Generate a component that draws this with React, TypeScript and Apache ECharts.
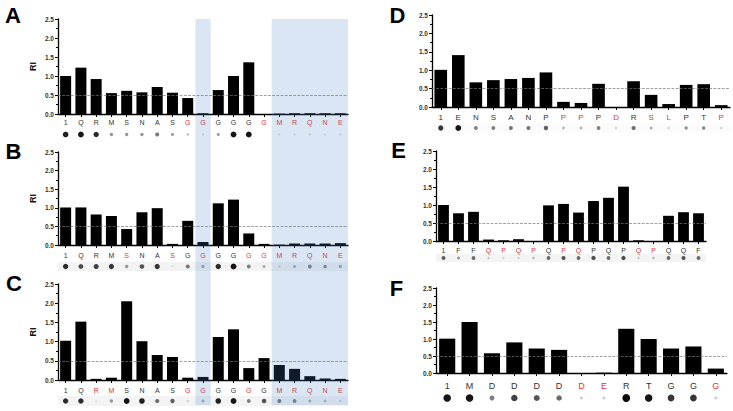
import React, { useEffect, useRef } from "react";
import * as echarts from "echarts";

// ---------- data ----------
const catsA = ["1","Q","R","M","S","N","A","S","G","G","G","G","G","G","M","R","Q","N","E"];
const valsA = [1.0,1.22,0.92,0.55,0.61,0.57,0.71,0.56,0.42,0.02,0.63,1.0,1.36,0.0,0.01,0.02,0.02,0.02,0.02];
const redA = [0,0,0,0,0,0,0,0,1,1,0,0,0,1,1,1,1,1,1];
const dotsA = [0.9,0.95,0.85,0.35,0.35,0.35,0.5,0.3,0.15,0.04,0.3,0.95,0.95,0,0.03,0.03,0.05,0.03,0.03];

const catsB = ["1","Q","R","M","S","N","A","S","G","G","G","G","G","G","M","R","Q","N","E"];
const valsB = [1.01,1.01,0.82,0.78,0.43,0.88,0.99,0.03,0.65,0.08,1.12,1.22,0.31,0.03,0.01,0.04,0.04,0.04,0.05];
const redB = [0,0,0,0,1,0,0,1,0,1,0,0,1,1,1,1,1,1,1];
const dotsB = [0.85,0.7,0.75,0.8,0.35,0.65,0.8,0.05,0.5,0.3,0.85,0.95,0.45,0.25,0.1,0.25,0.45,0.4,0.3];

const catsC = ["1","Q","R","M","S","N","A","S","G","G","G","G","G","G","M","R","Q","N","E"];
const valsC = [1.02,1.52,0.03,0.06,2.05,1.01,0.65,0.6,0.06,0.08,1.12,1.32,0.31,0.57,0.39,0.29,0.1,0.04,0.03];
const redC = [0,0,1,1,0,0,0,0,1,1,0,0,1,0,1,1,1,1,1];
const dotsC = [0.85,0.85,0.02,0.35,0.95,0.9,0.55,0.6,0.1,0.25,0.9,0.95,0.45,0.65,0.5,0.45,0.25,0.2,0.1];

const catsD = ["1","E","N","S","A","N","P","P","P","P","D","R","S","L","P","T","P"];
const valsD = [1.01,1.41,0.67,0.73,0.76,0.79,0.94,0.14,0.11,0.63,0.0,0.7,0.33,0.08,0.6,0.62,0.05];
const redD = [0,0,0,0,0,0,0,1,1,0,1,0,1,1,0,0,1];
const dotsD = [0.8,0.95,0.45,0.45,0.5,0.5,0.6,0.2,0.2,0.45,0.1,0.55,0.25,0.1,0.35,0.4,0.1];

const catsE = ["1","F","F","Q","P","Q","P","Q","P","Q","P","Q","P","Q","P","Q","Q","F"];
const valsE = [1.0,0.77,0.81,0.04,0.02,0.05,0.0,0.99,1.03,0.79,1.11,1.2,1.51,0.02,0.0,0.7,0.8,0.77];
const redE = [0,0,0,1,1,1,1,0,1,1,0,0,0,1,1,0,0,0];
const dotsE = [0.6,0.35,0.55,0.15,0.1,0.1,0.2,0.55,0.65,0.55,0.7,0.55,0.7,0.15,0.2,0.55,0.65,0.55];

const catsF = ["1","M","D","D","D","D","D","E","R","T","G","G","G"];
const valsF = [1.01,1.5,0.58,0.9,0.72,0.68,0.0,0.01,1.3,1.0,0.72,0.78,0.13];
const redF = [0,0,0,0,0,0,1,1,0,0,0,0,1];
const dotsF = [0.95,0.95,0.45,0.75,0.65,0.55,0.1,0.1,1,0.95,0.8,0.8,0.1];

const yMin = 0;
const yMax = 2.5;
const yStep = 0.5;
const threshold = 0.5;
const panelLetters = ["A", "B", "C", "D", "E", "F"];

// ---------- layout ----------
type Panel = {
  cats: string[]; vals: number[]; red: number[]; dots: number[];
  left: number; top: number; width: number; height: number;
  dotTop: number; dotH: number; dotBg: string; dotScale: number;
  labelSize: number; labelMargin: number; showName: boolean;
  letterX: number; letterY: number;
};

const panels: Panel[] = [
  { cats: catsA, vals: valsA, red: redA, dots: dotsA, left: 58, top: 19, width: 290, height: 95,
    dotTop: 130, dotH: 9, dotBg: "#ffffff", dotScale: 1, labelSize: 7, labelMargin: 5, showName: true, letterX: 13, letterY: 15 },
  { cats: catsB, vals: valsB, red: redB, dots: dotsB, left: 58, top: 152, width: 290, height: 93,
    dotTop: 262, dotH: 9, dotBg: "#f3f3f3", dotScale: 1, labelSize: 7, labelMargin: 7, showName: true, letterX: 13.5, letterY: 151 },
  { cats: catsC, vals: valsC, red: redC, dots: dotsC, left: 58, top: 284, width: 290, height: 96,
    dotTop: 396, dotH: 10, dotBg: "#f4f4f4", dotScale: 1, labelSize: 7, labelMargin: 7, showName: true, letterX: 14, letterY: 283.5 },
  { cats: catsD, vals: valsD, red: redD, dots: dotsD, left: 432, top: 15, width: 298, height: 92,
    dotTop: 124, dotH: 8, dotBg: "#fbfbfb", dotScale: 1, labelSize: 8, labelMargin: 6, showName: false, letterX: 397.5, letterY: 15 },
  { cats: catsE, vals: valsE, red: redE, dots: dotsE, left: 436, top: 151, width: 270, height: 90,
    dotTop: 254, dotH: 8, dotBg: "#f4f4f4", dotScale: 0.9, labelSize: 7, labelMargin: 6, showName: false, letterX: 398.5, letterY: 150.5 },
  { cats: catsF, vals: valsF, red: redF, dots: dotsF, left: 436, top: 288, width: 291, height: 85,
    dotTop: 393, dotH: 10, dotBg: "#ffffff", dotScale: 1.3, labelSize: 9, labelMargin: 8, showName: false, letterX: 396.5, letterY: 288.5 },
];

const FONT = "'Liberation Sans', Arial, sans-serif";

function buildOption() {
  const grid: any[] = [];
  const xAxis: any[] = [];
  const yAxis: any[] = [];
  const series: any[] = [];

  panels.forEach((p, i) => {
    // bar grid
    grid.push({ left: p.left, top: p.top, width: p.width, height: p.height, containLabel: false });
    xAxis.push({
      type: "category", gridIndex: i * 2, data: p.cats,
      axisLine: { show: true, lineStyle: { color: "#000", width: 1.3 } },
      axisTick: { show: true, alignWithLabel: true, length: 3, lineStyle: { color: "#000", width: 1 } },
      axisLabel: {
        interval: 0, margin: p.labelMargin, fontFamily: FONT, color: "#333", fontSize: p.labelSize,
        formatter: (v: string, idx: number) => (p.red[idx] ? `{red|${v}}` : `{blk|${v}}`),
        rich: {
          red: { color: "#e0363c", fontSize: p.labelSize, fontFamily: FONT },
          blk: { color: "#333333", fontSize: p.labelSize, fontFamily: FONT },
        },
      },
      splitLine: { show: false },
    });
    yAxis.push({
      type: "value", gridIndex: i * 2, min: yMin, max: yMax, interval: yStep,
      name: p.showName ? "RI" : "", nameLocation: "middle", nameGap: 21,
      nameTextStyle: { fontFamily: FONT, fontWeight: "bold", fontSize: 9, color: "#111" },
      axisLine: { show: true, lineStyle: { color: "#000", width: 1.3 } },
      axisTick: { show: true, length: 3, lineStyle: { color: "#000", width: 1 } },
      minorTick: { show: true, splitNumber: 2, length: 2, lineStyle: { color: "#000", width: 1 } },
      axisLabel: { fontFamily: FONT, fontSize: 6.5, fontWeight: "bold", color: "#333", margin: 4,
        formatter: (v: number) => v.toFixed(1) },
      splitLine: { show: false },
    });
    series.push({
      type: "bar", xAxisIndex: i * 2, yAxisIndex: i * 2, data: p.vals,
      barCategoryGap: "28%", itemStyle: { color: "#000" },
      markLine: {
        silent: true, symbol: ["none", "none"], label: { show: false },
        lineStyle: { type: "dashed", color: "#777", width: 0.7 },
        data: [{ yAxis: threshold }],
      },
    });

    // dot-blot strip grid
    grid.push({ left: p.left, top: p.dotTop, width: p.width, height: p.dotH, show: true,
      backgroundColor: p.dotBg, borderWidth: 0 });
    xAxis.push({ type: "category", gridIndex: i * 2 + 1, data: p.cats, show: false });
    yAxis.push({ type: "value", gridIndex: i * 2 + 1, min: -1, max: 1, show: false });
    series.push({
      type: "scatter", xAxisIndex: i * 2 + 1, yAxisIndex: i * 2 + 1,
      data: p.dots.map((d, k) => {
        const g = Math.round(225 - 215 * d);
        const c = `rgb(${g},${g},${g})`;
        return {
          value: [k, 0], symbolSize: (2 + 4 * d) * p.dotScale,
          itemStyle: { color: c, opacity: d < 0.02 ? 0 : 1, borderWidth: 0 },
        };
      }),
    });
  });

  return {
    animation: false,
    backgroundColor: "#fff",
    grid, xAxis, yAxis, series,
  };
}

export default function App() {
  const ref = useRef<HTMLDivElement>(null);
  useEffect(() => {
    if (!ref.current) return;
    const chart = echarts.init(ref.current, undefined, { renderer: "svg" });
    chart.setOption(buildOption());

    // shaded bands derived from panel A's category scale
    const px = (k: number) => chart.convertToPixel({ xAxisIndex: 0 }, k) as number;
    const w = px(1) - px(0);
    const bandSpans = [[9, 9], [14, 18]];
    const bandTop = panels[0].top;
    const bandBottom = 405;
    const graphic: any[] = bandSpans.map(([a, b], j) => ({
      id: "band" + j, type: "rect", z: 100, silent: true,
      shape: { x: px(a) - w / 2, y: bandTop, width: px(b) - px(a) + w, height: bandBottom - bandTop },
      style: { fill: "rgba(75,130,200,0.2)" },
    }));
    panels.forEach((p, i) => {
      graphic.push({
        id: "letter" + i, type: "text", x: p.letterX, y: p.letterY, z: 110,
        style: {
          text: panelLetters[i], fill: "#000",
          font: `bold 22px ${FONT}`, fontSize: 22, fontWeight: "bold", fontFamily: FONT,
          textAlign: "center", textVerticalAlign: "middle", align: "center", verticalAlign: "middle",
        },
      });
    });
    chart.setOption({ graphic });
    return () => chart.dispose();
  }, []);
  return (
    <div
      ref={ref}
      style={{ position: "fixed", left: 0, top: 0, width: 733, height: 411, background: "#fff" }}
    />
  );
}
